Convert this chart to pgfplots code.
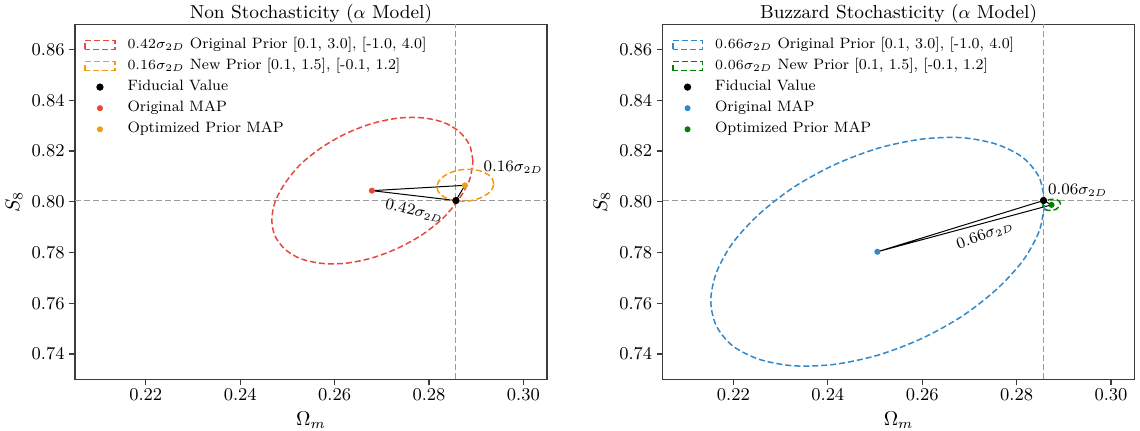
\documentclass[border=0pt]{standalone}
\usepackage{pgfplots}
\pgfplotsset{compat=1.18}

\definecolor{cred}{HTML}{E8483B}
\definecolor{corange}{HTML}{F39C12}
\definecolor{cblue}{HTML}{3288C8}
\definecolor{cgreen}{HTML}{008000}
\definecolor{refgray}{HTML}{9A9A9A}
\definecolor{framegray}{HTML}{3C3C3C}

\pgfplotsset{
  every axis title shift=0pt,
  contourpanel/.style={
    scale only axis, width=236pt, height=177.5pt,
    xmin=0.205, xmax=0.305, ymin=0.73, ymax=0.87,
    xtick={0.22,0.24,0.26,0.28,0.30},
    xticklabels={$0.22$,$0.24$,$0.26$,$0.28$,$0.30$},
    ytick={0.74,0.76,0.78,0.80,0.82,0.84,0.86},
    yticklabels={$0.74$,$0.76$,$0.78$,$0.80$,$0.82$,$0.84$,$0.86$},
    axis line style={framegray, line width=0.6pt},
    tick style={framegray, line width=0.6pt},
    tick align=outside, major tick length=3pt,
    xtick pos=lower, ytick pos=left,
    tick label style={font=\fontsize{8.75}{10}\selectfont},
    xticklabel style={inner sep=1.5pt},
    yticklabel style={inner sep=2pt},
    label style={font=\fontsize{10}{12}\selectfont},
    title style={font=\fontsize{9.4}{11}\selectfont, at={(axis description cs:0.5,1)}, anchor=base, yshift=3pt},
    xlabel={$\Omega_m$}, ylabel={$S_8$},
    xlabel style={at={(axis description cs:0.5,-0.115)}, anchor=center},
    ylabel style={at={(axis description cs:-0.129,0.5)}, anchor=center},
    legend cell align=left,
    legend style={at={(axis description cs:0,1)}, anchor=north west,
      xshift=4.5pt, yshift=-5.5pt, draw=none, fill=none,
      font=\fontsize{7.5}{9}\selectfont, inner sep=0pt, row sep=1.35pt, column sep=5pt,
      nodes={inner sep=1pt, text height=5.2pt, text depth=2pt}},
  },
  contour/.style={line width=0.75pt, dash pattern=on 3pt off 1.5pt, smooth,
    legend image code/.code={\draw[##1] (0pt,-2.25pt) rectangle (14.8pt,2.25pt);}},
  mapdot/.style={only marks, mark=*, mark size=1.3pt,
    legend image code/.code={\draw[mark repeat=2,mark phase=2,##1] plot coordinates {(0pt,0pt) (7.4pt,0pt) (14.8pt,0pt)};}},
  reflines/.style={refgray, line width=0.5pt, dash pattern=on 3pt off 1.5pt, forget plot},
}

\begin{document}
\begin{tikzpicture}
\useasboundingbox (-37.5pt,-25.35pt) rectangle (532.5pt,189.65pt);

% ---------------- left panel ----------------
\begin{axis}[contourpanel, title={Non Stochasticity ($\alpha$ Model)}]
  \addplot[reflines] coordinates {(0.2857,0.73) (0.2857,0.87)};
  \addplot[reflines] coordinates {(0.205,0.8005) (0.305,0.8005)};
  % distances between fiducial and the two MAP estimates
  \addplot[black, line width=0.5pt, forget plot] coordinates {
    (0.2679,0.8044) (0.2857,0.8005) (0.2876,0.8065) (0.2679,0.8044)};

  \addplot[contour, cred] coordinates {
    (0.2893,0.8160) (0.2886,0.8224) (0.2864,0.8277) (0.2831,0.8313)
    (0.2787,0.8331) (0.2735,0.8330) (0.2680,0.8309) (0.2625,0.8270)
    (0.2574,0.8216) (0.2529,0.8150) (0.2496,0.8076) (0.2474,0.8001)
    (0.2467,0.7928) (0.2474,0.7864) (0.2496,0.7811) (0.2529,0.7775)
    (0.2574,0.7757) (0.2625,0.7758) (0.2680,0.7779) (0.2735,0.7818)
    (0.2787,0.7872) (0.2831,0.7938) (0.2864,0.8012) (0.2886,0.8087)
    (0.2893,0.8160)};
  \addlegendentry{$0.42\sigma_{2D}$ Original Prior [0.1, 3.0], [-1.0, 4.0]}

  \addplot[contour, corange] coordinates {
    (0.2937,0.8071) (0.2935,0.8087) (0.2929,0.8102) (0.2919,0.8114)
    (0.2907,0.8123) (0.2893,0.8127) (0.2877,0.8128) (0.2861,0.8124)
    (0.2847,0.8116) (0.2835,0.8105) (0.2825,0.8091) (0.2819,0.8075)
    (0.2817,0.8059) (0.2819,0.8043) (0.2825,0.8028) (0.2835,0.8016)
    (0.2847,0.8008) (0.2861,0.8003) (0.2877,0.8002) (0.2893,0.8006)
    (0.2907,0.8014) (0.2919,0.8025) (0.2929,0.8039) (0.2935,0.8055)
    (0.2937,0.8071)};
  \addlegendentry{$0.16\sigma_{2D}$ New Prior [0.1, 1.5], [-0.1, 1.2]}

  \addplot[mapdot, black, mark size=1.6pt] coordinates {(0.2857,0.8005)};
  \addlegendentry{Fiducial Value}
  \addplot[mapdot, cred] coordinates {(0.2679,0.8044)};
  \addlegendentry{Original MAP}
  \addplot[mapdot, corange] coordinates {(0.2876,0.8065)};
  \addlegendentry{Optimized Prior MAP}

  \node[font=\fontsize{7.7}{9}\selectfont, anchor=west, inner sep=0pt]
    at (axis cs:0.2915,0.8137) {$0.16\sigma_{2D}$};
  \node[font=\fontsize{7.7}{9}\selectfont, rotate=-13, inner sep=0pt]
    at (axis cs:0.2769,0.7964) {$0.42\sigma_{2D}$};
\end{axis}

% ---------------- right panel ----------------
\begin{axis}[contourpanel, at={(293.8pt,0pt)}, title={Buzzard Stochasticity ($\alpha$ Model)}]
  \addplot[reflines] coordinates {(0.2857,0.73) (0.2857,0.87)};
  \addplot[reflines] coordinates {(0.205,0.8005) (0.305,0.8005)};
  \addplot[black, line width=0.5pt, forget plot] coordinates {
    (0.2505,0.7803) (0.2857,0.8005) (0.2874,0.7988) (0.2505,0.7803)};

  \addplot[contour, cblue] coordinates {
    (0.2860,0.7997) (0.2848,0.8096) (0.2813,0.8175) (0.2756,0.8228)
    (0.2683,0.8253) (0.2598,0.8247) (0.2506,0.8211) (0.2414,0.8146)
    (0.2329,0.8059) (0.2256,0.7954) (0.2199,0.7839) (0.2164,0.7721)
    (0.2152,0.7609) (0.2164,0.7510) (0.2199,0.7431) (0.2256,0.7378)
    (0.2329,0.7353) (0.2414,0.7359) (0.2506,0.7395) (0.2598,0.7460)
    (0.2683,0.7547) (0.2756,0.7652) (0.2813,0.7767) (0.2848,0.7885)
    (0.2860,0.7997)};
  \addlegendentry{$0.66\sigma_{2D}$ Original Prior [0.1, 3.0], [-1.0, 4.0]}

  \addplot[contour, cgreen] coordinates {
    (0.2893,0.7992) (0.2890,0.8003) (0.2884,0.8009) (0.2874,0.8010)
    (0.2864,0.8005) (0.2858,0.7995) (0.2855,0.7984) (0.2858,0.7973)
    (0.2864,0.7967) (0.2874,0.7966) (0.2884,0.7971) (0.2890,0.7981)
    (0.2893,0.7992)};
  \addlegendentry{$0.06\sigma_{2D}$ New Prior [0.1, 1.5], [-0.1, 1.2]}

  \addplot[mapdot, black, mark size=1.6pt] coordinates {(0.2857,0.8005)};
  \addlegendentry{Fiducial Value}
  \addplot[mapdot, cblue] coordinates {(0.2505,0.7803)};
  \addlegendentry{Original MAP}
  \addplot[mapdot, cgreen] coordinates {(0.2874,0.7988)};
  \addlegendentry{Optimized Prior MAP}

  \node[font=\fontsize{7.7}{9}\selectfont, anchor=west, inner sep=0pt]
    at (axis cs:0.2866,0.8044) {$0.06\sigma_{2D}$};
  \node[font=\fontsize{7.7}{9}\selectfont, rotate=20, inner sep=0pt]
    at (axis cs:0.2733,0.7869) {$0.66\sigma_{2D}$};
\end{axis}
\end{tikzpicture}
\end{document}
